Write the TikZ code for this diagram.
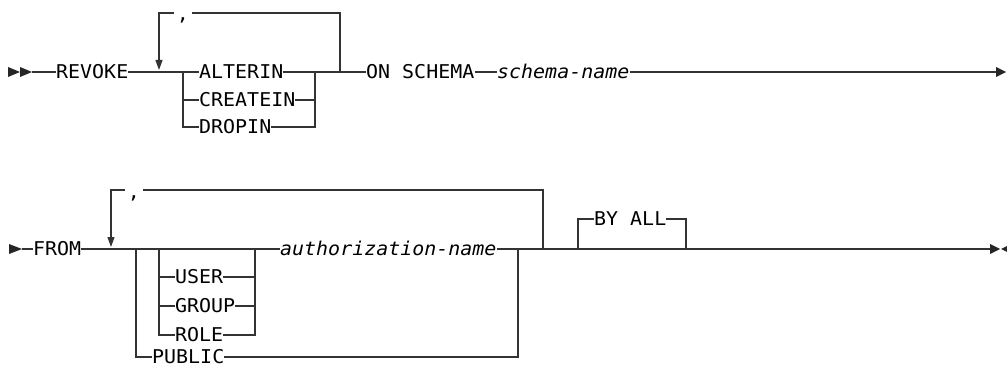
\documentclass[tikz,border=0pt]{standalone}
\usepackage{fontspec}
\usepackage{tikz}
\usetikzlibrary{positioning,arrows.meta,calc}
\newfontfamily\rrfont{DejaVu Sans Mono}[FakeStretch=1.05]
\newcommand{\rrsize}{\fontsize{19pt}{22pt}\selectfont}
\tikzset{
  rrline/.style={line width=1.2pt, draw=black!80},
  looparrow/.style={rrline, -{Triangle[length=10pt, width=7pt]}, shorten >=2pt},
  kw/.style={anchor=west, inner xsep=0pt, inner ysep=0pt, text height=13.8pt, text depth=0pt, font=\rrfont\rrsize},
  var/.style={kw, font=\rrfont\rrsize\itshape},
  sepnode/.style={inner xsep=3pt, inner ysep=0pt, text height=0pt, text depth=0pt, font=\rrfont\rrsize},
  tipfill/.style={fill=black!85}
}

\begin{document}
\begin{tikzpicture}[x=1pt, y=-1pt]
  \useasboundingbox (0,0) rectangle (1007,369);

  % first line: REVOKE ... ON SCHEMA
  \fill[tipfill] (8,67) -- (20,72) -- (8,77) -- cycle;
  \fill[tipfill] (20,67) -- (32,72) -- (20,77) -- cycle;
  \coordinate (s1) at (32,72);
  \node[kw] (revoke) at (56,72) {REVOKE};
  \node[kw] (alterin) at (199,72) {ALTERIN};
  \node[kw] (createin) at (199,100) {CREATEIN};
  \node[kw] (dropin) at (199,127) {DROPIN};
  \node[kw] (onschema) at (366,72) {ON SCHEMA};
  \node[var] (schemaname) at (497,72) {schema-name};
  \node[sepnode] (sep1) at (183,13) {\raisebox{-8pt}{,}};
  \coordinate (lp1l) at (159,72);
  \coordinate (lp1r) at (340,72);
  \coordinate (ch1l) at (183,72);
  \coordinate (ch1r) at (315,72);
  \coordinate (e1) at (996,72);

  \draw[rrline] (s1) -- (revoke.west);
  \draw[rrline] (revoke.east) -- (alterin.west);
  \draw[rrline] (alterin.east) -- (onschema.west);
  \draw[rrline] (ch1l) |- (createin.west);
  \draw[rrline] (ch1l) |- (dropin.west);
  \draw[rrline] (createin.east) -| (ch1r);
  \draw[rrline] (dropin.east) -| (ch1r);
  \draw[rrline] (lp1r) |- (sep1.east);
  \draw[looparrow] (sep1.west) -| (lp1l);
  \draw[rrline] (onschema.east) -- (schemaname.west);
  \draw[rrline] (schemaname.east) -- (e1);
  \fill[tipfill] (e1) ++(0,-5) -- ++(10,5) -- ++(-10,5) -- cycle;

  % second line: FROM ... BY ALL
  \fill[tipfill] (9,244) -- (22,249) -- (9,254) -- cycle;
  \coordinate (s2) at (22,249);
  \node[kw] (from) at (33,249) {FROM};
  \node[kw] (user) at (175,277) {USER};
  \node[kw] (group) at (175,306) {GROUP};
  \node[kw] (role) at (175,335) {ROLE};
  \node[kw] (public) at (152,357) {PUBLIC};
  \node[var] (authname) at (280,249) {authorization-name};
  \node[kw] (byall) at (594,219) {BY ALL};
  \node[sepnode] (sep2) at (134,190) {\raisebox{-8pt}{,}};
  \coordinate (lp2l) at (111,249);
  \coordinate (lp2r) at (543,249);
  \coordinate (ch2l) at (136,249);
  \coordinate (ch2r) at (518,249);
  \coordinate (ch3l) at (159,249);
  \coordinate (ch3r) at (255,249);
  \coordinate (optl) at (578,249);
  \coordinate (optr) at (686,249);
  \coordinate (e2) at (990,249);

  \draw[rrline] (s2) -- (from.west);
  \draw[rrline] (from.east) -- (authname.west);
  \draw[rrline] (ch2l) |- (public.west);
  \draw[rrline] (public.east) -| (ch2r);
  \foreach \who in {user,group,role}{
    \draw[rrline] (ch3l) |- (\who.west);
    \draw[rrline] (\who.east) -| (ch3r);
  }
  \draw[rrline] (lp2r) |- (sep2.east);
  \draw[looparrow] (sep2.west) -| (lp2l);
  \draw[rrline] (authname.east) -- (e2);
  \draw[rrline] (optl) |- (byall.west);
  \draw[rrline] (byall.east) -| (optr);
  \fill[tipfill] (e2) ++(0,-5) -- ++(10,5) -- ++(-10,5) -- cycle;
  \fill[tipfill] (1001,249) -- (1011,244) -- (1011,254) -- cycle;
\end{tikzpicture}
\end{document}
